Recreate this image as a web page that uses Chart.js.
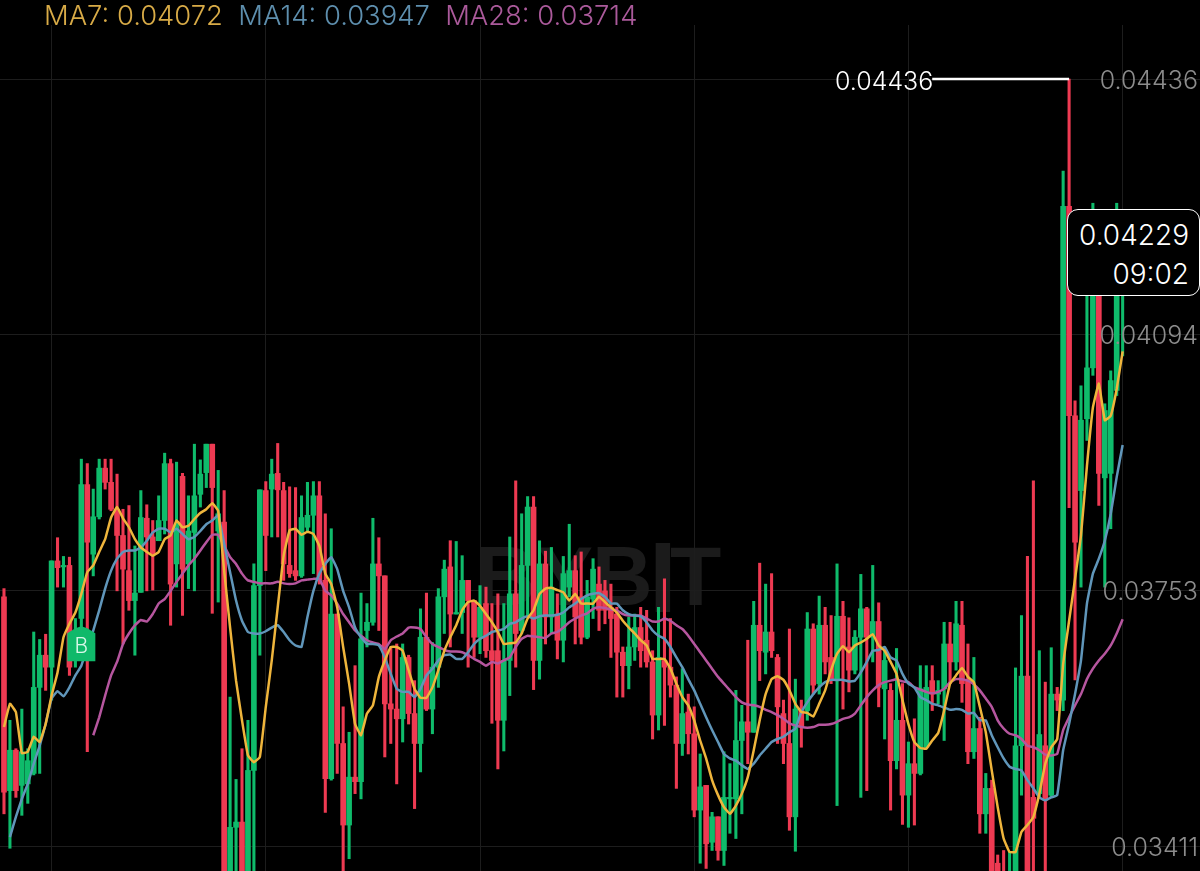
<!DOCTYPE html>
<html>
<head>
<meta charset="utf-8">
<title>MA chart</title>
<script src="https://cdn.jsdelivr.net/npm/chart.js@4"></script>
<style>
    html, body { margin: 0; padding: 0; background: #000; }
    #wrap { position: relative; width: 1200px; height: 871px; overflow: hidden; background: #000; font-family: Inter, "Liberation Sans", sans-serif; }
    #wrap canvas { position: absolute; left: 0; top: 0; z-index: 1; }
    .legend { position: absolute; top: 0; left: 44px; z-index: 3; font-size: 27.4px; line-height: 30px; font-weight: 300; white-space: pre; }
    .mark { position: absolute; color: #1b1b1b; font-family: "Liberation Sans", sans-serif; font-weight: 700; font-size: 84px; line-height: 84px; z-index: 0; }
    .peak { position: absolute; left: 835px; top: 66px; z-index: 3; color: #fff; font-size: 25px; line-height: 30px; font-weight: 300; }
    .callout { position: absolute; left: 1067px; top: 209px; width: 131px; height: 85px; border: 1.5px solid #fff; border-radius: 11px; background: #000; z-index: 3; color: #fff; text-align: right; font-size: 28px; font-weight: 300; line-height: 39px; box-sizing: content-box; }
    .callout div { padding-right: 10px; }
    .callout div:first-child { margin-top: 6px; }
</style>
</head>
<body>
<div id="wrap">
    <span class="mark" style="left:475px;top:534px">B</span>
    <span class="mark" style="left:537px;top:534px">Y</span>
    <span class="mark" style="left:592px;top:534px">B</span>
    <span class="mark" style="left:649px;top:527px;font-size:100px;line-height:100px">I</span>
    <span class="mark" style="left:670px;top:534px">T</span>
    <canvas id="chart" width="1200" height="871"></canvas>
    <div class="legend"><span style="color:#d8ab47">MA7: 0.04072</span>  <span style="color:#5e8fae">MA14: 0.03947</span>  <span style="color:#ab5a9b">MA28: 0.03714</span></div>
    <div class="peak">0.04436</div>
    <div class="callout"><div>0.04229</div><div>09:02</div></div>
</div>
<script>
// values
const opens = [
    0.03744,0.03485,0.03539,0.03492,0.03494,0.03508,0.03623,0.03666,0.03650,0.03792,
    0.03784,0.03786,0.03663,0.03715,0.03894,0.03801,0.03851,0.03916,0.03897,0.03861,
    0.03826,0.03779,0.03739,0.03750,0.03849,0.03824,0.03819,0.03846,0.03922,0.03788,
    0.03905,0.03788,0.03830,0.03881,0.03910,0.03948,0.03832,0.03844,0.03360,0.03436,
    0.03443,0.03360,0.03512,0.03759,0.03886,0.03888,0.03909,0.03886,0.03786,0.03779,
    0.03772,0.03837,0.03853,0.03879,0.03766,0.03501,0.03721,0.03548,0.03439,0.03503,
    0.03497,0.03699,0.03710,0.03788,0.03772,0.03601,0.03594,0.03581,0.03663,0.03588,
    0.03548,0.03690,0.03594,0.03650,0.03744,0.03784,0.03721,0.03723,0.03766,0.03739,
    0.03690,0.03735,0.03672,0.03672,0.03579,0.03659,0.03748,0.03699,0.03786,0.03864,
    0.03659,0.03788,0.03717,0.03721,0.03686,0.03757,0.03779,0.03744,0.03690,0.03741,
    0.03761,0.03752,0.03730,0.03721,0.03670,0.03652,0.03677,0.03703,0.03686,0.03657,
    0.03586,0.03659,0.03650,0.03626,0.03548,0.03590,0.03561,0.03459,0.03492,0.03416,
    0.03450,0.03405,0.03474,0.03474,0.03552,0.03577,0.03563,0.03706,0.03670,0.03697,
    0.03663,0.03588,0.03548,0.03450,0.03592,0.03592,0.03701,0.03628,0.03706,0.03663,
    0.03632,0.03718,0.03677,0.03646,0.03690,0.03728,0.03690,0.03711,0.03621,0.03619,
    0.03525,0.03579,0.03479,0.03521,0.03508,0.03543,0.03632,0.03614,0.03621,0.03681,
    0.03657,0.03706,0.03632,0.03537,0.03568,0.03454,0.03488,0.03388,0.03370,0.03360,
    0.03360,0.03545,0.03638,0.03476,0.03481,0.03545,0.03479,0.03614,0.03606,0.04266,
    0.03986,0.03886,0.03982,0.04050,0.04193,0.03903,0.03909,0.04020,0.04153
];
const closes = [
    0.03483,0.03539,0.03485,0.03537,0.03525,0.03623,0.03666,0.03650,0.03792,0.03783,
    0.03786,0.03650,0.03695,0.03894,0.03817,0.03851,0.03916,0.03897,0.03861,0.03826,
    0.03781,0.03739,0.03749,0.03850,0.03824,0.03801,0.03846,0.03922,0.03761,0.03841,
    0.03781,0.03832,0.03879,0.03908,0.03948,0.03890,0.03855,0.03360,0.03436,0.03443,
    0.03360,0.03512,0.03759,0.03887,0.03826,0.03908,0.03887,0.03788,0.03775,0.03772,
    0.03850,0.03853,0.03879,0.03766,0.03501,0.03721,0.03548,0.03439,0.03503,0.03497,
    0.03688,0.03710,0.03788,0.03772,0.03601,0.03594,0.03581,0.03663,0.03588,0.03548,
    0.03690,0.03594,0.03650,0.03744,0.03781,0.03721,0.03723,0.03766,0.03739,0.03690,
    0.03730,0.03672,0.03659,0.03579,0.03659,0.03748,0.03695,0.03786,0.03864,0.03659,
    0.03788,0.03717,0.03757,0.03686,0.03775,0.03779,0.03717,0.03690,0.03744,0.03781,
    0.03726,0.03726,0.03715,0.03670,0.03652,0.03677,0.03703,0.03672,0.03657,0.03586,
    0.03663,0.03650,0.03626,0.03548,0.03588,0.03561,0.03459,0.03490,0.03414,0.03450,
    0.03405,0.03476,0.03476,0.03552,0.03577,0.03563,0.03706,0.03672,0.03697,0.03672,
    0.03597,0.03548,0.03450,0.03594,0.03570,0.03701,0.03626,0.03706,0.03657,0.03632,
    0.03718,0.03677,0.03646,0.03690,0.03728,0.03690,0.03711,0.03623,0.03659,0.03525,
    0.03579,0.03479,0.03521,0.03508,0.03621,0.03623,0.03614,0.03619,0.03681,0.03657,
    0.03708,0.03628,0.03537,0.03568,0.03454,0.03488,0.03360,0.03360,0.03360,0.03375,
    0.03545,0.03638,0.03360,0.03448,0.03560,0.03472,0.03614,0.03606,0.04266,0.03986,
    0.03817,0.03980,0.04050,0.04206,0.03909,0.03993,0.04033,0.04220,0.04193
];
const highs = [
    0.03755,0.03579,0.03541,0.03594,0.03541,0.03697,0.03687,0.03694,0.03792,0.03823,
    0.03798,0.03797,0.03715,0.03928,0.03922,0.03888,0.03928,0.03928,0.03928,0.03908,
    0.03861,0.03866,0.03812,0.03886,0.03867,0.03846,0.03879,0.03936,0.03928,0.03924,
    0.03909,0.03879,0.03948,0.03927,0.03948,0.03948,0.03913,0.03886,0.03610,0.03500,
    0.03541,0.03579,0.03788,0.03887,0.03898,0.03928,0.03949,0.03897,0.03891,0.03890,
    0.03879,0.03897,0.03898,0.03898,0.03855,0.03835,0.03721,0.03597,0.03563,0.03652,
    0.03749,0.03735,0.03849,0.03823,0.03772,0.03677,0.03681,0.03681,0.03666,0.03632,
    0.03728,0.03749,0.03683,0.03755,0.03793,0.03819,0.03818,0.03799,0.03766,0.03739,
    0.03759,0.03757,0.03735,0.03748,0.03735,0.03824,0.03899,0.03855,0.03878,0.03878,
    0.03819,0.03805,0.03810,0.03748,0.03798,0.03841,0.03799,0.03804,0.03766,0.03795,
    0.03784,0.03766,0.03761,0.03730,0.03677,0.03717,0.03721,0.03730,0.03726,0.03672,
    0.03730,0.03768,0.03715,0.03637,0.03648,0.03614,0.03597,0.03534,0.03492,0.03456,
    0.03450,0.03537,0.03521,0.03619,0.03599,0.03686,0.03738,0.03789,0.03761,0.03775,
    0.03667,0.03606,0.03701,0.03634,0.03606,0.03723,0.03708,0.03745,0.03730,0.03719,
    0.03788,0.03738,0.03716,0.03699,0.03774,0.03730,0.03786,0.03736,0.03677,0.03628,
    0.03675,0.03628,0.03550,0.03581,0.03652,0.03652,0.03652,0.03632,0.03710,0.03710,
    0.03738,0.03738,0.03681,0.03663,0.03583,0.03508,0.03499,0.03399,0.03405,0.03403,
    0.03649,0.03719,0.03798,0.03899,0.03672,0.03630,0.03676,0.03623,0.04313,0.04436,
    0.04006,0.04026,0.04246,0.04270,0.04220,0.04002,0.04046,0.04270,0.04220
];
const lows = [
    0.03454,0.03408,0.03476,0.03452,0.03468,0.03506,0.03508,0.03619,0.03606,0.03757,
    0.03757,0.03639,0.03650,0.03699,0.03537,0.03772,0.03848,0.03888,0.03859,0.03752,
    0.03681,0.03726,0.03666,0.03750,0.03752,0.03753,0.03819,0.03828,0.03706,0.03757,
    0.03719,0.03755,0.03752,0.03864,0.03890,0.03722,0.03737,0.03340,0.03340,0.03360,
    0.03345,0.03345,0.03370,0.03666,0.03779,0.03824,0.03824,0.03766,0.03770,0.03766,
    0.03770,0.03832,0.03775,0.03761,0.03456,0.03499,0.03508,0.03370,0.03394,0.03481,
    0.03474,0.03677,0.03706,0.03699,0.03530,0.03548,0.03494,0.03550,0.03574,0.03461,
    0.03510,0.03592,0.03561,0.03623,0.03695,0.03677,0.03721,0.03695,0.03650,0.03663,
    0.03668,0.03663,0.03575,0.03514,0.03538,0.03612,0.03650,0.03695,0.03717,0.03620,
    0.03634,0.03681,0.03695,0.03661,0.03657,0.03744,0.03681,0.03681,0.03688,0.03715,
    0.03699,0.03708,0.03663,0.03610,0.03610,0.03621,0.03659,0.03650,0.03650,0.03554,
    0.03566,0.03572,0.03610,0.03488,0.03532,0.03534,0.03450,0.03388,0.03381,0.03405,
    0.03392,0.03385,0.03428,0.03421,0.03454,0.03521,0.03563,0.03632,0.03641,0.03663,
    0.03548,0.03521,0.03432,0.03404,0.03543,0.03579,0.03614,0.03614,0.03641,0.03628,
    0.03465,0.03594,0.03617,0.03641,0.03476,0.03485,0.03657,0.03597,0.03554,0.03459,
    0.03514,0.03440,0.03436,0.03439,0.03506,0.03541,0.03592,0.03601,0.03552,0.03628,
    0.03646,0.03603,0.03521,0.03528,0.03428,0.03428,0.03350,0.03350,0.03350,0.03350,
    0.03350,0.03479,0.03350,0.03370,0.03476,0.03370,0.03477,0.03592,0.03592,0.03863,
    0.03633,0.03757,0.03953,0.04040,0.03866,0.03757,0.03835,0.04013,0.04066
];
const ma7 = [
    0.03570,0.03601,0.03590,0.03535,0.03537,0.03557,0.03550,0.03574,0.03612,0.03643,
    0.03690,0.03708,0.03723,0.03748,0.03777,0.03786,0.03804,0.03821,0.03850,0.03864,
    0.03849,0.03837,0.03821,0.03810,0.03804,0.03799,0.03804,0.03821,0.03826,0.03846,
    0.03837,0.03839,0.03848,0.03856,0.03861,0.03869,0.03859,0.03779,0.03703,0.03632,
    0.03579,0.03532,0.03523,0.03530,0.03597,0.03659,0.03730,0.03799,0.03833,0.03835,
    0.03827,0.03831,0.03828,0.03812,0.03775,0.03761,0.03730,0.03677,0.03628,0.03574,
    0.03559,0.03588,0.03599,0.03637,0.03659,0.03677,0.03677,0.03672,0.03646,0.03621,
    0.03609,0.03609,0.03623,0.03646,0.03672,0.03690,0.03706,0.03726,0.03737,0.03739,
    0.03732,0.03721,0.03710,0.03697,0.03681,0.03682,0.03683,0.03695,0.03715,0.03726,
    0.03748,0.03755,0.03756,0.03753,0.03750,0.03739,0.03748,0.03735,0.03735,0.03735,
    0.03744,0.03737,0.03730,0.03723,0.03712,0.03703,0.03695,0.03686,0.03679,0.03661,
    0.03661,0.03661,0.03648,0.03628,0.03610,0.03599,0.03579,0.03552,0.03528,0.03499,
    0.03479,0.03463,0.03454,0.03465,0.03481,0.03503,0.03539,0.03579,0.03614,0.03634,
    0.03638,0.03633,0.03619,0.03601,0.03590,0.03589,0.03584,0.03601,0.03619,0.03646,
    0.03668,0.03678,0.03670,0.03679,0.03683,0.03688,0.03694,0.03679,0.03672,0.03657,
    0.03641,0.03606,0.03574,0.03550,0.03542,0.03541,0.03552,0.03562,0.03592,0.03628,
    0.03639,0.03649,0.03637,0.03630,0.03597,0.03563,0.03512,0.03463,0.03421,0.03403,
    0.03403,0.03430,0.03439,0.03450,0.03481,0.03521,0.03543,0.03554,0.03654,0.03712,
    0.03768,0.03826,0.03919,0.03997,0.04029,0.03980,0.03986,0.04022,0.04072
];
const ma14 = [
    null,0.03423,0.03450,0.03474,0.03494,0.03521,0.03545,0.03574,0.03608,0.03618,
    0.03611,0.03623,0.03639,0.03652,0.03677,0.03699,0.03726,0.03755,0.03779,0.03795,
    0.03804,0.03806,0.03806,0.03810,0.03819,0.03830,0.03835,0.03835,0.03830,0.03835,
    0.03828,0.03821,0.03824,0.03832,0.03841,0.03846,0.03853,0.03815,0.03777,0.03739,
    0.03712,0.03697,0.03695,0.03695,0.03698,0.03703,0.03706,0.03697,0.03686,0.03679,
    0.03677,0.03717,0.03752,0.03775,0.03788,0.03797,0.03781,0.03752,0.03730,0.03703,
    0.03690,0.03681,0.03681,0.03679,0.03663,0.03641,0.03621,0.03617,0.03617,0.03610,
    0.03621,0.03639,0.03648,0.03659,0.03666,0.03667,0.03661,0.03661,0.03670,0.03681,
    0.03688,0.03692,0.03697,0.03699,0.03701,0.03708,0.03710,0.03715,0.03718,0.03715,
    0.03718,0.03719,0.03719,0.03720,0.03723,0.03730,0.03735,0.03741,0.03746,0.03748,
    0.03749,0.03744,0.03735,0.03735,0.03726,0.03721,0.03719,0.03718,0.03710,0.03699,
    0.03692,0.03688,0.03677,0.03663,0.03650,0.03634,0.03619,0.03601,0.03583,0.03566,
    0.03550,0.03534,0.03528,0.03525,0.03519,0.03514,0.03521,0.03532,0.03541,0.03550,
    0.03554,0.03557,0.03563,0.03568,0.03590,0.03603,0.03614,0.03623,0.03630,0.03633,
    0.03633,0.03633,0.03631,0.03632,0.03643,0.03657,0.03672,0.03673,0.03677,0.03663,
    0.03659,0.03641,0.03628,0.03623,0.03610,0.03606,0.03601,0.03599,0.03596,0.03593,
    0.03594,0.03593,0.03588,0.03589,0.03579,0.03579,0.03559,0.03543,0.03528,0.03517,
    0.03514,0.03512,0.03499,0.03488,0.03476,0.03472,0.03476,0.03479,0.03539,0.03574,
    0.03614,0.03659,0.03735,0.03775,0.03795,0.03819,0.03855,0.03904,0.03947
];
const ma28 = [
    null,null,null,null,null,null,null,null,null,null,
    null,null,null,null,null,0.03559,0.03583,0.03612,0.03639,0.03657,
    0.03681,0.03695,0.03706,0.03713,0.03711,0.03721,0.03735,0.03741,0.03752,0.03764,
    0.03775,0.03786,0.03795,0.03806,0.03817,0.03827,0.03827,0.03812,0.03797,0.03788,
    0.03775,0.03766,0.03764,0.03762,0.03762,0.03762,0.03764,0.03762,0.03761,0.03762,
    0.03766,0.03767,0.03768,0.03768,0.03752,0.03746,0.03735,0.03721,0.03710,0.03699,
    0.03692,0.03686,0.03683,0.03681,0.03674,0.03686,0.03691,0.03695,0.03703,0.03703,
    0.03701,0.03690,0.03681,0.03677,0.03673,0.03671,0.03671,0.03670,0.03666,0.03661,
    0.03657,0.03652,0.03657,0.03655,0.03659,0.03663,0.03677,0.03688,0.03692,0.03691,
    0.03690,0.03689,0.03695,0.03697,0.03703,0.03710,0.03715,0.03719,0.03722,0.03728,
    0.03730,0.03729,0.03727,0.03726,0.03721,0.03719,0.03719,0.03719,0.03715,0.03711,
    0.03711,0.03715,0.03712,0.03706,0.03701,0.03692,0.03681,0.03670,0.03659,0.03648,
    0.03637,0.03628,0.03619,0.03610,0.03603,0.03600,0.03599,0.03597,0.03593,0.03590,
    0.03586,0.03581,0.03575,0.03572,0.03570,0.03569,0.03570,0.03573,0.03573,0.03574,
    0.03577,0.03581,0.03583,0.03588,0.03599,0.03610,0.03619,0.03626,0.03630,0.03632,
    0.03634,0.03631,0.03630,0.03623,0.03620,0.03617,0.03615,0.03617,0.03621,0.03630,
    0.03634,0.03634,0.03632,0.03627,0.03619,0.03608,0.03597,0.03579,0.03568,0.03561,
    0.03559,0.03554,0.03545,0.03543,0.03539,0.03533,0.03532,0.03534,0.03566,0.03583,
    0.03599,0.03614,0.03634,0.03648,0.03659,0.03668,0.03679,0.03695,0.03714
];
const priceTicks = [0.04436, 0.04094, 0.03753, 0.03411];
const timeGridIdx = [8, 44, 80, 116, 152, 188];
const peakPrice = 0.04436;
const peakFromIdx = 156, peakToIdx = 179;
const buyIdx = 13, buyPrice = 0.03658;

const upColor = '#0fbb6b';
const downColor = '#ee3a52';
const barColors = closes.map((c, i) => (c >= opens[i] ? upColor : downColor));
const toPoints = arr => arr.map((v, i) => ({ x: i, y: v }));

function maLine(label, arr, color) {
    return { type: 'line', label: label, data: toPoints(arr), borderColor: color, borderWidth: 2.5, pointRadius: 0, tension: 0.1, order: 1 };
}

// small house shaped "B" badge sitting on the chart
const buyBadge = {
    id: 'buyBadge',
    afterDatasetsDraw(chart) {
        const ctx = chart.ctx;
        const cx = chart.scales.x.getPixelForValue(buyIdx);
        const by = chart.scales.y.getPixelForValue(buyPrice);
        ctx.save();
        ctx.fillStyle = '#10b96a';
        ctx.beginPath();
        ctx.moveTo(cx - 14, by);
        ctx.lineTo(cx - 14, by - 28);
        ctx.lineTo(cx - 6, by - 33);
        ctx.lineTo(cx, by - 35);
        ctx.lineTo(cx + 6, by - 33);
        ctx.lineTo(cx + 14, by - 28);
        ctx.lineTo(cx + 14, by);
        ctx.closePath();
        ctx.fill();
        ctx.fillStyle = '#d8f7e8';
        ctx.font = '300 21px Inter';
        ctx.textAlign = 'center';
        ctx.textBaseline = 'middle';
        ctx.fillText('B', cx, by - 14);
        ctx.restore();
    }
};

new Chart(document.getElementById('chart').getContext('2d'), {
    data: {
        datasets: [
            maLine('MA7', ma7, '#efb53c'),
            maLine('MA14', ma14, '#6096ba'),
            maLine('MA28', ma28, '#b6569f'),
            {
                type: 'line', label: 'high', order: 0, borderColor: '#fff', borderWidth: 2.5, pointRadius: 0,
                data: [{ x: peakFromIdx, y: peakPrice }, { x: peakToIdx, y: peakPrice }]
            },
            {
                type: 'bar', label: 'body', order: 2, grouped: false, barThickness: 5,
                data: closes.map((c, i) => ({ x: i, y: [opens[i], c] })),
                backgroundColor: barColors
            },
            {
                type: 'bar', label: 'wick', order: 3, grouped: false, barThickness: 2.4,
                data: highs.map((h, i) => ({ x: i, y: [lows[i], h] })),
                backgroundColor: barColors
            }
        ]
    },
    options: {
        responsive: false,
        animation: false,
        layout: { padding: { top: 25, left: 0, right: 0, bottom: 0 } },
        plugins: { legend: { display: false }, tooltip: { enabled: false } },
        scales: {
            x: {
                type: 'linear', min: -0.67, max: 201, offset: false,
                afterBuildTicks: scale => { scale.ticks = timeGridIdx.map(v => ({ value: v })); },
                grid: { color: '#1d1d1d', lineWidth: 1, drawTicks: false, offset: false },
                border: { display: false },
                ticks: { display: false }
            },
            y: {
                position: 'right', min: 0.033776, max: 0.045082,
                afterBuildTicks: scale => { scale.ticks = priceTicks.map(v => ({ value: v })); },
                afterFit: scale => { scale.paddingTop = 0; scale.paddingBottom = 0; scale.width = 0; },
                grid: { color: '#1d1d1d', lineWidth: 1, drawTicks: false },
                border: { display: false },
                ticks: {
                    mirror: true, z: 1, padding: -2, labelOffset: 2, color: '#8c8c8c', autoSkip: false,
                    font: { family: 'Inter', size: 25, weight: 300 },
                    callback: v => v.toFixed(5)
                }
            }
        }
    },
    plugins: [buyBadge]
});
</script>
</body>
</html>
